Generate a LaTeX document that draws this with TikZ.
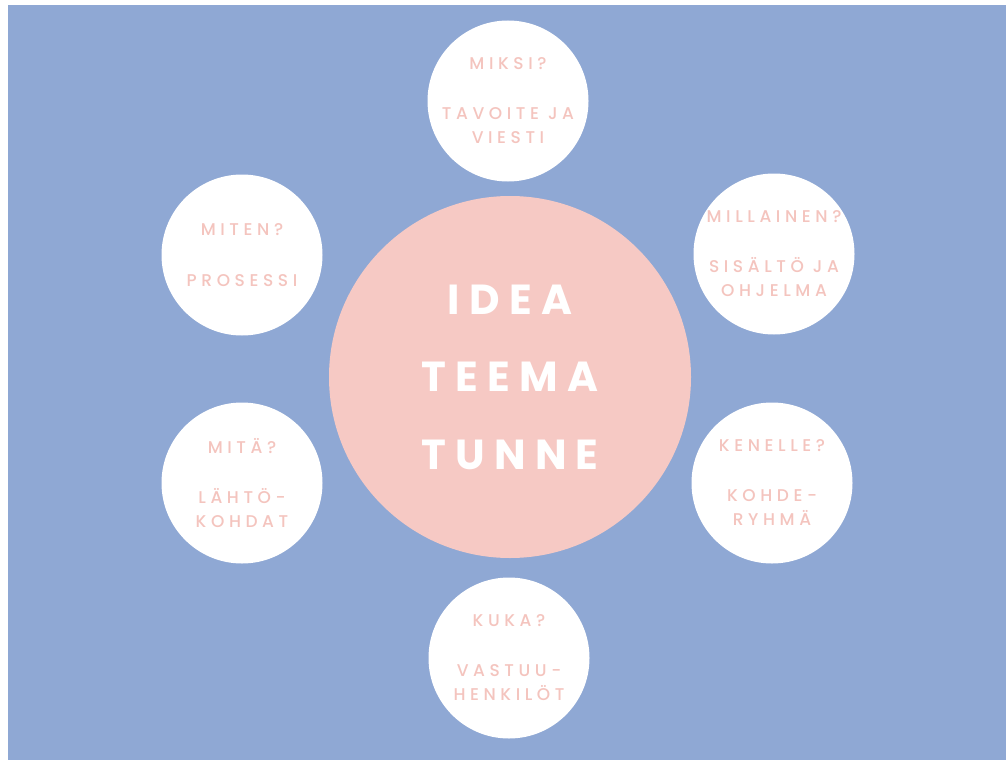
\documentclass[tikz,border=0pt]{standalone}
\usepackage{fontspec}
\setmainfont{Poppins}
\newfontfamily\smallfont[LetterSpace=27]{Poppins Medium}
\newfontfamily\bigfont[LetterSpace=22]{Poppins Bold}
\definecolor{bgblue}{HTML}{8FA8D4}
\definecolor{rosefill}{HTML}{F6C9C4}
\definecolor{rosetext}{HTML}{F4C4BE}
\tikzset{
  smallcirc/.style={circle, fill=white, draw=none, minimum size=161pt, inner sep=0pt,
    text=rosetext, align=center, font=\smallfont\fontsize{17pt}{24pt}\selectfont},
  bigcirc/.style={circle, fill=rosefill, draw=none, minimum size=362pt, inner sep=0pt,
    text=white, align=center, font=\bigfont\fontsize{42pt}{77.5pt}\selectfont}
}
\begin{document}
\begin{tikzpicture}[x=1pt,y=-1pt]
\useasboundingbox (0,0) rectangle (1006,760);
\fill[white] (0,0) rectangle (1006,760);
\fill[bgblue] (8,5) rectangle (1006,760);
\node[bigcirc] (center) at (510,377) {IDEA\\TEEMA\\TUNNE};
\node[smallcirc] (miksi) at (508,101) {MIKSI?\\[26pt]TAVOITE JA\\VIESTI};
\node[smallcirc] (millainen) at (774,254) {MILLAINEN?\\[26pt]SISÄLTÖ JA\\OHJELMA};
\node[smallcirc] (kenelle) at (772,483) {KENELLE?\\[26pt]KOHDE-\\RYHMÄ};
\node[smallcirc] (kuka) at (509,658) {KUKA?\\[26pt]VASTUU-\\HENKILÖT};
\node[smallcirc] (mita) at (242,483) {MITÄ?\\[26pt]LÄHTÖ-\\KOHDAT};
\node[smallcirc] (miten) at (242,255) {MITEN?\\[27pt]PROSESSI};
\end{tikzpicture}
\end{document}
